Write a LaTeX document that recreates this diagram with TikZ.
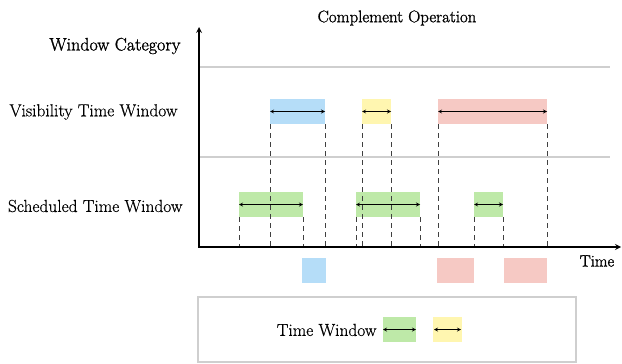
\documentclass[tikz,border=0pt]{standalone}
\usepackage{fontspec}
\newfontfamily\headfont{Latin Modern Roman}[FakeBold=1.4,Scale=1.001]
\newfontfamily\labelfont{Latin Modern Roman}[FakeBold=0.5]
\usetikzlibrary{positioning}
\definecolor{visblue}{HTML}{B5DDF8}
\definecolor{visyellow}{HTML}{FFF6B0}
\definecolor{visred}{HTML}{F6C9C4}
\definecolor{schgreen}{HTML}{BEE9A8}
\definecolor{gridgray}{HTML}{CFCFCF}

\begin{document}
\begin{tikzpicture}[>=stealth,x=1pt,y=-1pt,
  win/.style={minimum height=25pt,inner sep=0pt,outer sep=0pt},
  lbl/.style={font=\fontsize{17.4}{20}\labelfont},
  head/.style={font=\fontsize{18}{20}\headfont},
  cut/.style={dash pattern=on 5pt off 4pt,line width=0.8pt,black!75},
  sep/.style={line width=1.3pt,gridgray}]
\useasboundingbox (0,0) rectangle (622,364);
% axes
\coordinate (O) at (199,247);
\coordinate (ytop) at (199,27);
\coordinate (xend) at (621,247);
\draw[sep] (200,67) -- (610,67);
\draw[sep] (200,157) -- (610,157);
\node[head,font=\fontsize{16.8}{19}\headfont] (title) at (397,18) {Complement Operation};
\node[head,anchor=east] (cat) at (184,46) {Window Category};
\node[lbl,anchor=east] (vis) at (181,112) {Visibility Time Window};
\node[lbl,anchor=east] (sch) at (186,206) {Scheduled Time Window};
\node[head,font=\fontsize{16.4}{18}\headfont] (time) at (597,261) {Time};
% visibility windows
\node[win,fill=visblue,minimum width=55pt] (v1) at (297.5,111.5) {};
\node[win,fill=visyellow,minimum width=29pt] (v2) at (376.5,111.5) {};
\node[win,fill=visred,minimum width=109pt] (v3) at (492.5,111.5) {};
% scheduled windows
\node[win,fill=schgreen,minimum width=64pt] (s1) at (271,204.5) {};
\node[win,fill=schgreen,minimum width=64pt] (s2) at (388,204.5) {};
\node[win,fill=schgreen,minimum width=29pt] (s3) at (488.5,204.5) {};
% complement result
\node[win,fill=visblue,minimum width=24pt] (c1) at (314,270.5) {};
\node[win,fill=visred,minimum width=37pt] (c2) at (455.5,270.5) {};
\node[win,fill=visred,minimum width=43pt] (c3) at (525.5,270.5) {};
% projections onto the time axis
\foreach \w in {v1,v2,v3,s1,s2,s3}{
  \draw[cut] (\w.south west) -- (\w.south west |- O);
  \draw[cut] (\w.south east) -- (\w.south east |- O);
  \draw[<->,line width=0.8pt] (\w.west) -- (\w.east);
}
\draw[->,line width=1.6pt] (O) -- (ytop);
\draw[->,line width=1.6pt] ([xshift=-0.8pt]O) -- (xend);
% legend
\node[draw=gridgray,line width=1.5pt,minimum width=378pt,minimum height=65pt,inner sep=0pt] (leg) at (387,329.5) {};
\node[lbl,anchor=east] (legtxt) at (380,330) {Time Window};
\node[win,fill=schgreen,minimum width=33pt] (l1) at (399.5,329.5) {};
\node[win,fill=visyellow,minimum width=29pt] (l2) at (447.5,329.5) {};
\draw[<->,line width=0.8pt] (l1.west) -- (l1.east);
\draw[<->,line width=0.8pt] ([xshift=1pt]l2.west) -- ([xshift=-1pt]l2.east);
\end{tikzpicture}
\end{document}
